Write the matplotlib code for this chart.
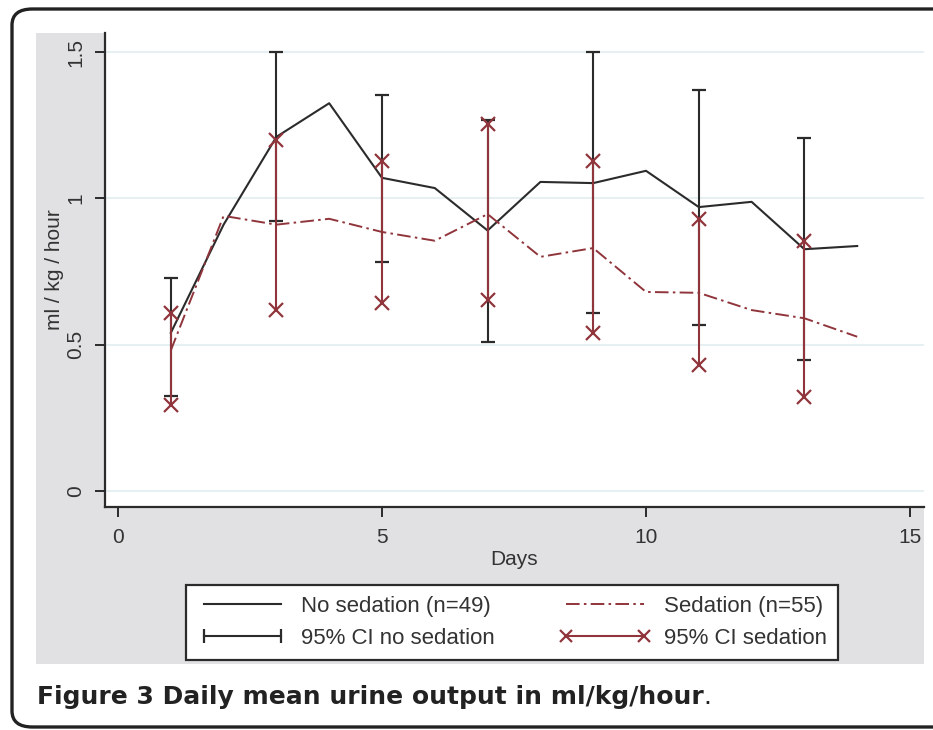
import numpy as np
import matplotlib.pyplot as plt
from matplotlib.lines import Line2D
from matplotlib.patches import FancyBboxPatch, Rectangle

# daily means
days = [1, 2, 3, 4, 5, 6, 7, 8, 9, 10, 11, 12, 13, 14]
no_sed = [0.54, 0.91, 1.21, 1.325, 1.07, 1.035, 0.89, 1.056, 1.052, 1.094, 0.97, 0.988, 0.826, 0.837]
sed = [0.48, 0.94, 0.91, 0.93, 0.885, 0.855, 0.946, 0.80, 0.83, 0.68, 0.677, 0.618, 0.59, 0.527]

# 95% CI every other day
ci_days = [1, 3, 5, 7, 9, 11, 13]
ci_no_lo = [0.325, 0.923, 0.782, 0.51, 0.607, 0.567, 0.447]
ci_no_hi = [0.727, 1.50, 1.353, 1.267, 1.50, 1.37, 1.205]
ci_sed_lo = [0.294, 0.62, 0.642, 0.652, 0.54, 0.43, 0.32]
ci_sed_hi = [0.607, 1.20, 1.127, 1.254, 1.127, 0.929, 0.855]

yticks = [0, 0.5, 1, 1.5]
ytick_labels = ["0", "0.5", "1", "1.5"]
xticks = [0, 5, 10, 15]

W, H = 933, 730
red = "#90353b"
dark = "#2b2b2b"
grey_bg = "#e1e1e3"

plt.rcParams['font.family'] = ['Liberation Sans', 'DejaVu Sans']
fig = plt.figure(figsize=(W / 100, H / 100), dpi=100)

# rounded outer frame (right side runs off the picture)
frame = FancyBboxPatch((12 / W, 1 - 727 / H), (960 - 12) / W, (727 - 9) / H,
                       boxstyle="round,pad=0,rounding_size=0.022",
                       transform=fig.transFigure, fill=False,
                       edgecolor="#222222", linewidth=2.4, clip_on=False, zorder=-2)
fig.patches.append(frame)

# grey graph region
fig.patches.append(Rectangle((36 / W, 1 - 664 / H), (924 - 36) / W, (664 - 33) / H,
                             transform=fig.transFigure, facecolor=grey_bg,
                             edgecolor="none", zorder=-1))

ax = fig.add_axes([105 / W, 1 - 507 / H, (924 - 105) / W, (507 - 33) / H])
ax.set_facecolor("white")
ax.set_xlim(-0.246, 15.265)
ax.set_ylim(-0.055, 1.565)

for v in yticks:
    ax.axhline(v, color="#e2edf0", linewidth=1.2, zorder=0)

ax.plot(days, no_sed, color=dark, linewidth=1.5, zorder=3)
ax.plot(days, sed, color=red, linewidth=1.4, dashes=(7, 2.2, 1.3, 2.2), zorder=3)

ax.vlines(ci_days, ci_no_lo, ci_no_hi, color=dark, linewidth=1.5, zorder=4)
ax.plot(ci_days, ci_no_lo, linestyle="none", marker="_", markersize=10, markeredgewidth=1.6, color=dark, zorder=4)
ax.plot(ci_days, ci_no_hi, linestyle="none", marker="_", markersize=10, markeredgewidth=1.6, color=dark, zorder=4)

ax.vlines(ci_days, ci_sed_lo, ci_sed_hi, color=red, linewidth=1.5, zorder=5)
ax.plot(ci_days, ci_sed_lo, linestyle="none", marker="x", markersize=9.5, markeredgewidth=1.6, color=red, zorder=5)
ax.plot(ci_days, ci_sed_hi, linestyle="none", marker="x", markersize=9.5, markeredgewidth=1.6, color=red, zorder=5)

for s in ["top", "right"]:
    ax.spines[s].set_visible(False)
for s in ["left", "bottom"]:
    ax.spines[s].set_color(dark)
    ax.spines[s].set_linewidth(1.6)

ax.set_yticks(yticks)
ax.set_yticklabels(ytick_labels, rotation=90, va="center")
ax.set_xticks(xticks)
ax.tick_params(axis="both", direction="out", length=7, width=1.4, color=dark,
               labelsize=15, labelcolor="#333333")
ax.tick_params(axis="x", pad=8)
ax.tick_params(axis="y", pad=7)
ax.set_ylabel("ml / kg / hour", fontsize=15, color="#333333", labelpad=2)
ax.set_xlabel("Days", fontsize=15, color="#333333", labelpad=2)

handles = [
    Line2D([], [], color=dark, linewidth=1.5),
    Line2D([], [], color=dark, linewidth=1.5, marker="|", markersize=10, markeredgewidth=1.6),
    Line2D([], [], color=red, linewidth=1.4, dashes=(7, 2.2, 1.3, 2.2)),
    Line2D([], [], color=red, linewidth=1.5, marker="x", markersize=9, markeredgewidth=1.6),
]
labels = ["No sedation (n=49)", "95% CI no sedation", "Sedation (n=55)", "95% CI sedation"]
leg = fig.legend(handles, labels, loc="center", bbox_to_anchor=(512 / W, 1 - 622.5 / H),
                 ncol=2, numpoints=2, fontsize=16, frameon=True, fancybox=False,
                 handlelength=4.1, handletextpad=0.6, columnspacing=2.9,
                 borderpad=0.5, labelspacing=0.5, edgecolor=dark, framealpha=1)
leg.get_frame().set_linewidth(1.6)
for t in leg.get_texts():
    t.set_color("#333333")

cap = fig.text(37 / W, 1 - 697 / H, "Figure 3 Daily mean urine output in ml/kg/hour", fontsize=18,
               fontweight="bold", color="#222222", va="center", ha="left", family="DejaVu Sans")
fig.canvas.draw()
bb = cap.get_window_extent()
fig.text(bb.x1 / W, 1 - 697 / H, ".", fontsize=18, color="#222222", va="center", ha="left",
         family="DejaVu Sans")

fig.savefig("out.png", dpi=100)
